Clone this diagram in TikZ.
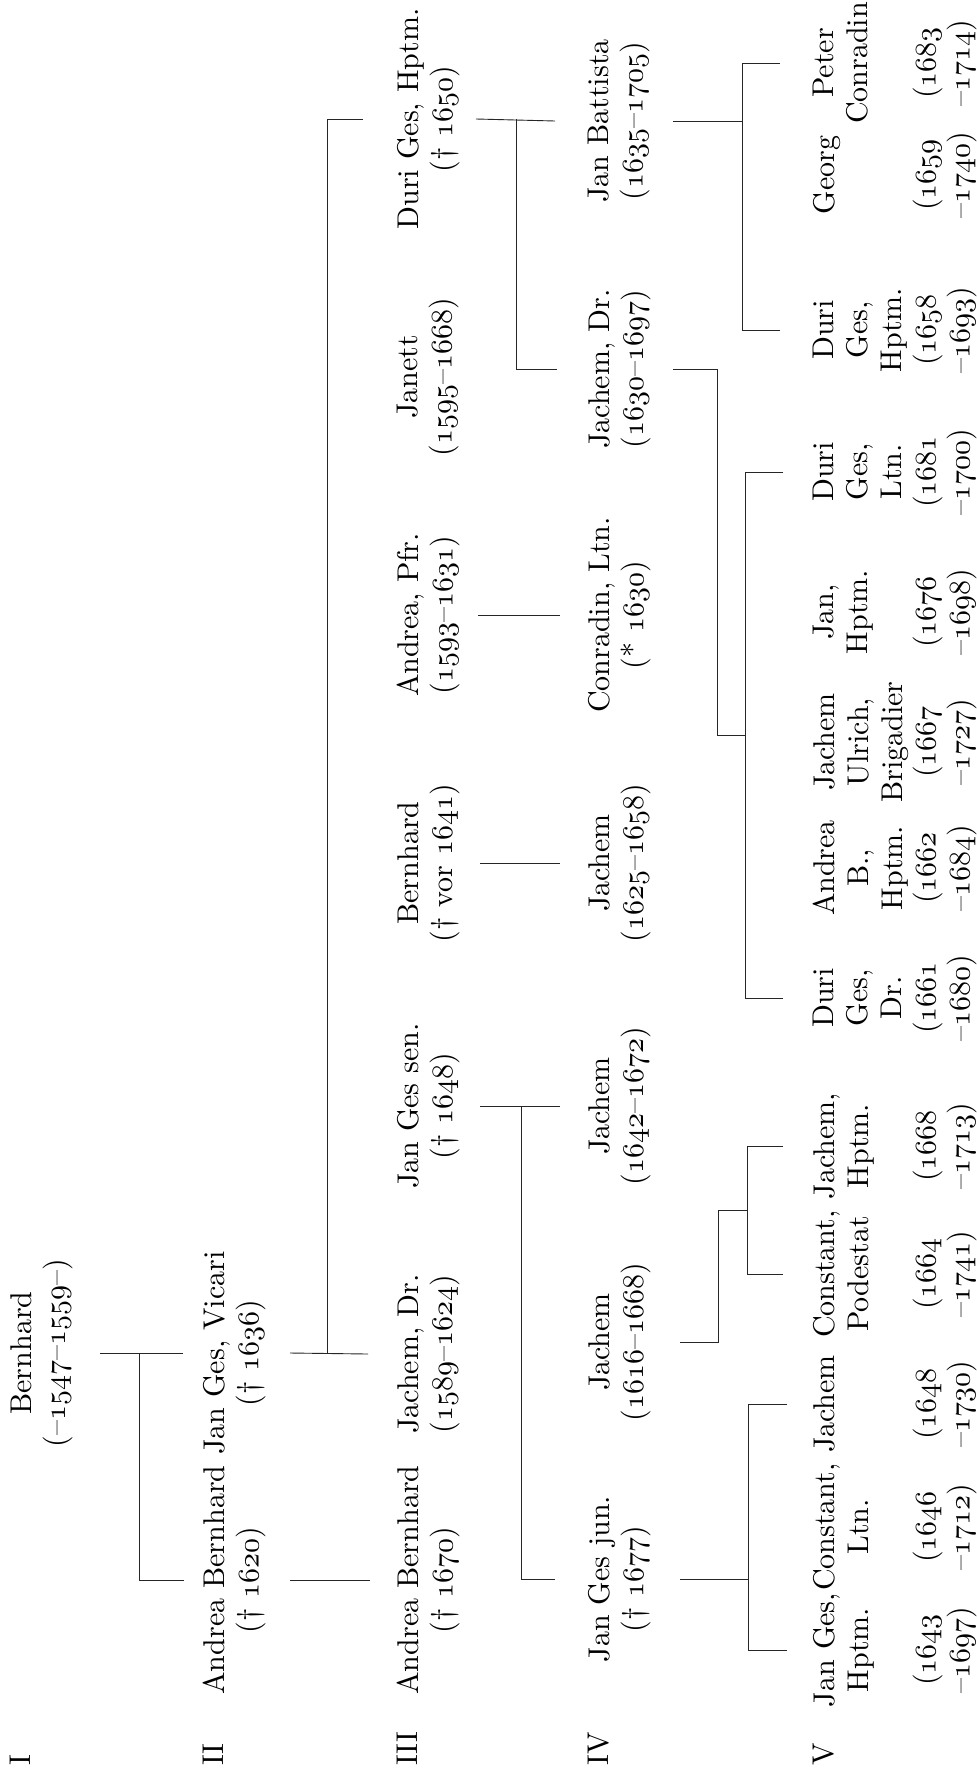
\documentclass[tikz,border=0pt]{standalone}
\font\lmx="[lmroman10-regular]" at 30pt
\DeclareFontFamily{OML}{osncm}{\skewchar\font127 }
\DeclareFontShape{OML}{osncm}{m}{it}{<-> cmmi10}{}
\newcommand\osn[1]{{\usefont{OML}{osncm}{m}{it}#1}}
\tikzset{
  pers/.style={rotate=90, anchor=north, inner sep=0pt, align=center,
    font=\fontsize{30}{34}\selectfont\lmx, text=black},
  genlab/.style={rotate=90, anchor=north west, inner sep=0pt,
    font=\fontsize{30}{34}\selectfont\lmx, text=black},
  conn/.style={draw=black!85, line width=0.9pt},
}
\begin{document}
\begin{tikzpicture}[x=1pt,y=-1pt]
\fill[white] (0,0) rectangle (977,1791);
\useasboundingbox (0,0) rectangle (977,1791);

% generation labels
\node[genlab] (lI)   at (10,1766)  {I};
\node[genlab] (lII)  at (203,1766) {II};
\node[genlab] (lIII) at (397,1766) {III};
\node[genlab] (lIV)  at (588,1766) {IV};
\node[genlab] (lV)   at (813,1766) {V};

% generation I
\node[pers] (bern1) at (10,1353) {Bernhard\\(–\osn{1547}–\osn{1559}–)};

% generation II
\node[pers] (ab2)  at (203,1580) {Andrea Bernhard\\(† \osn{1620})};
\node[pers] (jgv2) at (203,1353) {Jan Ges, Vicari\\(† \osn{1636})};

% generation III
\node[pers] (ab3)   at (397,1580) {Andrea Bernhard\\(† \osn{1670})};
\node[pers] (jd3)   at (397,1354) {Jachem, Dr.\\(\osn{1589}–\osn{1624})};
\node[pers] (jgs3)  at (397,1106) {Jan Ges sen.\\(† \osn{1648})};
\node[pers] (bern3) at (397,863)  {Bernhard\\(† vor \osn{1641})};
\node[pers] (apf3)  at (397,615)  {Andrea, Pfr.\\(\osn{1593}–\osn{1631})};
\node[pers] (jan3)  at (397,377)  {Janett\\(\osn{1595}–\osn{1668})};
\node[pers] (dg3)   at (397,119)  {Duri Ges, Hptm.\\(† \osn{1650})};

% generation IV
\node[pers] (jgj4) at (588,1579) {Jan Ges jun.\\(† \osn{1677})};
\node[pers] (j16)  at (588,1342) {Jachem\\(\osn{1616}–\osn{1668})};
\node[pers] (j42)  at (588,1106) {Jachem\\(\osn{1642}–\osn{1672})};
\node[pers] (j25)  at (588,863)  {Jachem\\(\osn{1625}–\osn{1658})};
\node[pers] (con4) at (588,615)  {Conradin, Ltn.\\(* \osn{1630})};
\node[pers] (jd4)  at (588,369)  {Jachem, Dr.\\(\osn{1630}–\osn{1697})};
\node[pers] (jb4)  at (588,121)  {Jan Battista\\(\osn{1635}–\osn{1705})};

% generation V : names
\node[pers] (v1)  at (813,1650) {Jan Ges,\\Hptm.};
\node[pers] (v2)  at (813,1527) {Constant,\\Ltn.};
\node[pers] (v3)  at (813,1404) {Jachem};
\node[pers] (v4)  at (813,1274) {Constant,\\Podestat};
\node[pers] (v5)  at (813,1146) {Jachem,\\Hptm.};
\node[pers] (v6)  at (813,998)  {Duri\\Ges,\\Dr.};
\node[pers] (v7)  at (813,868)  {Andrea\\B.,\\Hptm.};
\node[pers] (v8)  at (813,742)  {Jachem\\Ulrich,\\Brigadier};
\node[pers] (v9)  at (813,612)  {Jan,\\Hptm.};
\node[pers] (v10) at (813,472)  {Duri\\Ges,\\Ltn.};
\node[pers] (v11) at (813,330)  {Duri\\Ges,\\Hptm.};
\node[pers] (v12) at (813,175)  {Georg};
\node[pers] (v13) at (813,63)   {Peter\\Conradin};

% generation V : dates
\node[pers] (d1)  at (913,1650) {(\osn{1643}\\–\osn{1697})};
\node[pers] (d2)  at (913,1527) {(\osn{1646}\\–\osn{1712})};
\node[pers] (d3)  at (913,1404) {(\osn{1648}\\–\osn{1730})};
\node[pers] (d4)  at (913,1274) {(\osn{1664}\\–\osn{1741})};
\node[pers] (d5)  at (913,1146) {(\osn{1668}\\–\osn{1713})};
\node[pers] (d6)  at (913,998)  {(\osn{1661}\\–\osn{1680})};
\node[pers] (d7)  at (913,868)  {(\osn{1662}\\–\osn{1684})};
\node[pers] (d8)  at (913,742)  {(\osn{1667}\\–\osn{1727})};
\node[pers] (d9)  at (913,612)  {(\osn{1676}\\–\osn{1698})};
\node[pers] (d10) at (913,472)  {(\osn{1681}\\–\osn{1700})};
\node[pers] (d11) at (913,330)  {(\osn{1658}\\–\osn{1693})};
\node[pers] (d12) at (913,175)  {(\osn{1659}\\–\osn{1740})};
\node[pers] (d13) at (913,63)   {(\osn{1683}\\–\osn{1714})};

% I -> II
\draw[conn] (bern1.south -| 100,0) -- (jgv2.north -| 183,0);
\draw[conn] (bern1.south -| 139,0) |- (ab2.north -| 184,0);

% II -> III
\draw[conn] (jgv2.south -| 290,0) -- (jd3.north -| 368,0);
\draw[conn] (jgv2.south -| 327,0) |- (dg3.north -| 363,0);
\draw[conn] (ab2.south -| 290,0) -- (ab3.north -| 370,0);

% III -> IV
\draw[conn] (jgs3.south -| 480,0) -- (j42.north -| 560,0);
\draw[conn] (jgs3.south -| 521,0) |- (jgj4.north -| 555,0);
\draw[conn] (bern3.south -| 480,0) -- (j25.north -| 560,0);
\draw[conn] (apf3.south -| 478,0) -- (con4.north -| 560,0);
\draw[conn] (dg3.south -| 476,0) -- (jb4.north -| 555,0);
\draw[conn] (dg3.south -| 516,0) |- (jd4.north -| 557,0);

% IV -> V
\draw[conn] (jgj4.south -| 680,0) -- (jgj4.south -| 748,0);
\draw[conn] (v3.north -| 787,0) -- (v3.north -| 748,0) -- (v1.north -| 748,0) -- (v1.north -| 787,0);

\coordinate (e16) at (747,1210);
\draw[conn] (j16.south -| 680,0) -| (e16 -| 718,0) -- (e16);
\draw[conn] (v5.north -| 783,0) -- (v5.north -| 747,0) -- (v4.north -| 747,0) -- (v4.north -| 783,0);

\coordinate (edr) at (745,735);
\draw[conn] (jd4.south -| 673,0) -| (edr -| 717,0) -- (edr);
\draw[conn] (v10.north -| 783,0) -- (v10.north -| 745,0) -- (v6.north -| 745,0) -- (v6.north -| 783,0);

\draw[conn] (jb4.south -| 673,0) -- (jb4.south -| 742,0);
\draw[conn] (v13.north -| 780,0) -- (v13.north -| 742,0) -- (v11.north -| 742,0) -- (v11.north -| 780,0);
\end{tikzpicture}
\end{document}
